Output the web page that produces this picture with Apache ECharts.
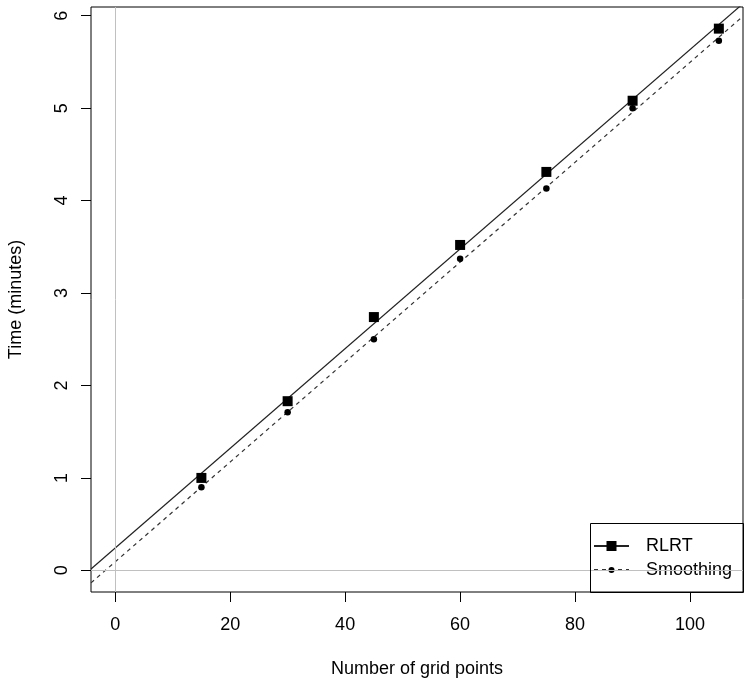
<!DOCTYPE html>
<html>
<head>
<meta charset="utf-8">
<script src="https://cdn.jsdelivr.net/npm/echarts@6/dist/echarts.min.js"></script>
<style>
  html, body { margin: 0; padding: 0; background: #fff; }
  #chart { width: 750px; height: 686px; }
</style>
</head>
<body>
<div id="chart"></div>
<script>
// grid sizes (number of grid points)
const gridPoints = [15, 30, 45, 60, 75, 90, 105];
// computing time in minutes
const rlrtTimes = [1.0, 1.83, 2.74, 3.52, 4.31, 5.08, 5.86];
const smoothingTimes = [0.9, 1.71, 2.5, 3.37, 4.13, 5.0, 5.73];
const xTicks = [0, 20, 40, 60, 80, 100];
const yTicks = [0, 1, 2, 3, 4, 5, 6];
const xRange = [-4.2, 109.2];
const yRange = [-0.234, 6.094];

// least squares fit, like abline(lm(y ~ x))
function fitLine(xs, ys) {
  const n = xs.length;
  const mx = xs.reduce((a, b) => a + b, 0) / n;
  const my = ys.reduce((a, b) => a + b, 0) / n;
  let sxy = 0, sxx = 0;
  for (let i = 0; i < n; i++) {
    sxy += (xs[i] - mx) * (ys[i] - my);
    sxx += (xs[i] - mx) * (xs[i] - mx);
  }
  const b = sxy / sxx;
  const a = my - b * mx;
  return xRange.map(x => [x, a + b * x]);
}

const pairs = (xs, ys) => xs.map((x, i) => [x, ys[i]]);

const font = 'Liberation Sans, Arial, sans-serif';
const chart = echarts.init(document.getElementById('chart'));

const option = {
  animation: false,
  backgroundColor: '#fff',
  grid: {
    left: 91, right: 7, top: 7, bottom: 94,
    show: true, borderColor: '#000', borderWidth: 1,
    containLabel: false, outerBoundsMode: 'none'
  },
  xAxis: {
    type: 'value', min: xRange[0], max: xRange[1],
    name: 'Number of grid points', nameLocation: 'middle', nameGap: 68,
    nameTextStyle: { fontFamily: font, fontSize: 18, color: '#000' },
    axisLine: { show: false, onZero: false },
    splitLine: { show: false },
    axisTick: { show: true, inside: false, length: 10, customValues: xTicks, lineStyle: { color: '#000' } },
    axisLabel: { customValues: xTicks, margin: 24, fontFamily: font, fontSize: 18, color: '#000' }
  },
  yAxis: {
    type: 'value', min: yRange[0], max: yRange[1],
    name: 'Time (minutes)', nameLocation: 'middle', nameGap: 66, nameRotate: 90,
    nameTextStyle: { fontFamily: font, fontSize: 18, color: '#000' },
    axisLine: { show: false, onZero: false },
    splitLine: { show: false },
    axisTick: { show: true, inside: false, length: 10, customValues: yTicks, lineStyle: { color: '#000' } },
    axisLabel: { customValues: yTicks, rotate: 90, margin: 20, fontFamily: font, fontSize: 18, color: '#000' }
  },
  legend: [
    {
      data: ['RLRT'], left: 593, top: 537, padding: 0,
      itemWidth: 35, itemHeight: 12.5,
      textStyle: { fontFamily: font, fontSize: 18, color: '#000', padding: [0, 0, 0, 12] }
    },
    {
      data: ['Smoothing'], left: 593, top: 561, padding: 0,
      itemWidth: 35, itemHeight: 7.5,
      textStyle: { fontFamily: font, fontSize: 18, color: '#000', padding: [0, 0, 0, 12] }
    }
  ],
  graphic: [{
    type: 'rect', silent: true, z: 100,
    shape: { x: 590.5, y: 523.5, width: 153, height: 69 },
    style: { fill: 'none', stroke: '#000', lineWidth: 1 }
  }],
  series: [
    {
      name: 'refs', type: 'scatter', data: [], silent: true,
      markLine: {
        silent: true, symbol: 'none', label: { show: false },
        lineStyle: { color: '#c0c0c0', width: 1, type: 'solid' },
        data: [{ xAxis: 0 }, { yAxis: 0 }]
      },
      z: 1
    },
    {
      name: 'RLRT', type: 'line', data: fitLine(gridPoints, rlrtTimes),
      symbol: 'rect', showSymbol: false, clip: true,
      itemStyle: { color: '#000' },
      lineStyle: { color: '#222', width: 1.2, type: 'solid' },
      z: 3
    },
    {
      name: 'Smoothing', type: 'line', data: fitLine(gridPoints, smoothingTimes),
      symbol: 'circle', showSymbol: false, clip: true,
      itemStyle: { color: '#000' },
      lineStyle: { color: '#333', width: 1.2, type: [4, 4] },
      z: 3
    },
    {
      name: 'RLRT points', type: 'scatter', data: pairs(gridPoints, rlrtTimes),
      symbol: 'rect', symbolSize: 10, itemStyle: { color: '#000', opacity: 1 }, z: 4
    },
    {
      name: 'Smoothing points', type: 'scatter', data: pairs(gridPoints, smoothingTimes),
      symbol: 'circle', symbolSize: 6.5, itemStyle: { color: '#000', opacity: 1 }, z: 4
    }
  ]
};

chart.setOption(option);
</script>
</body>
</html>
